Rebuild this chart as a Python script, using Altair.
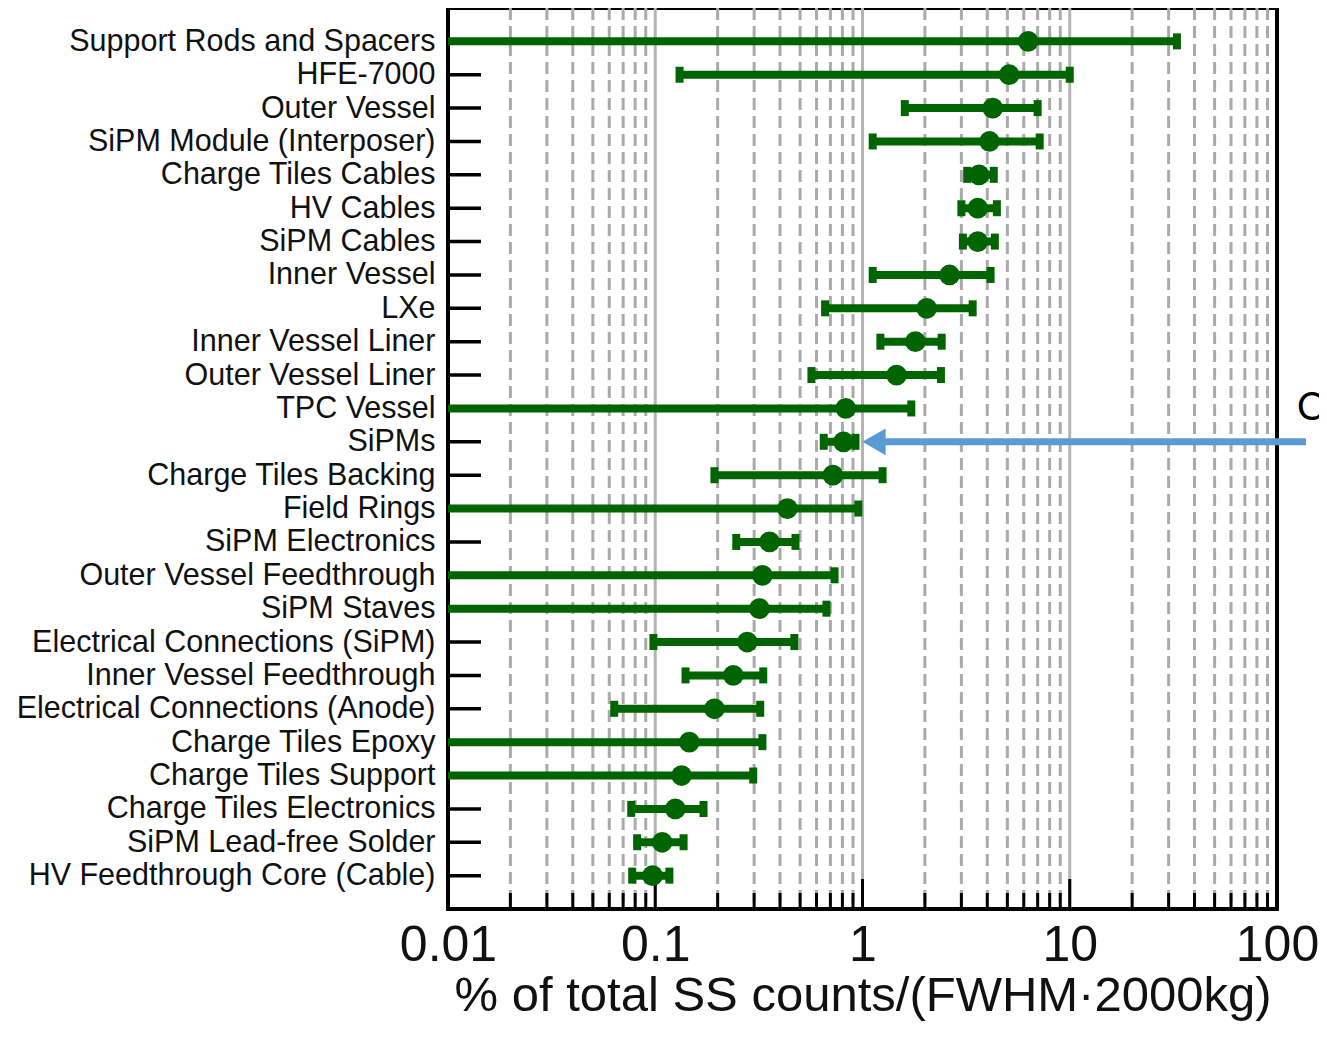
import altair as alt
import pandas as pd

categories = [
    "Support Rods and Spacers", "HFE-7000", "Outer Vessel", "SiPM Module (Interposer)",
    "Charge Tiles Cables", "HV Cables", "SiPM Cables", "Inner Vessel", "LXe",
    "Inner Vessel Liner", "Outer Vessel Liner", "TPC Vessel", "SiPMs",
    "Charge Tiles Backing", "Field Rings", "SiPM Electronics",
    "Outer Vessel Feedthrough", "SiPM Staves", "Electrical Connections (SiPM)",
    "Inner Vessel Feedthrough", "Electrical Connections (Anode)", "Charge Tiles Epoxy",
    "Charge Tiles Support", "Charge Tiles Electronics", "SiPM Lead-free Solder",
    "HV Feedthrough Core (Cable)",
]
center = [6.3, 5.1, 4.25, 4.1, 3.65, 3.6, 3.6, 2.63, 2.04, 1.80, 1.46, 0.83, 0.81,
          0.72, 0.434, 0.356, 0.329, 0.318, 0.278, 0.238, 0.193, 0.146, 0.134,
          0.125, 0.108, 0.097]
# None = lower limit below the axis range (bar runs to the left edge)
lower = [None, 0.131, 1.60, 1.12, 3.2, 3.0, 3.05, 1.12, 0.66, 1.22, 0.567, None, 0.65,
         0.193, None, 0.246, None, None, 0.098, 0.14, 0.0634, None, None,
         0.0766, 0.0818, 0.0774]
upper = [32.9, 10.0, 7.0, 7.16, 4.3, 4.45, 4.35, 4.15, 3.40, 2.41, 2.39, 1.72, 0.925,
         1.25, 0.955, 0.475, 0.733, 0.67, 0.469, 0.332, 0.321, 0.329, 0.297,
         0.171, 0.137, 0.117]

major_ticks = [0.01, 0.1, 1, 10, 100]
major_grid = [0.1, 1, 10]
minor_vals = [m * 10 ** e for e in (-2, -1, 0, 1) for m in range(2, 10)]

W, H = 829, 901
GREEN = "#006400"

df = pd.DataFrame({"cat": categories, "c": center, "hi": upper,
                   "lo": [l if l is not None else float("nan") for l in lower]})
df["lo_draw"] = [l if l is not None else 0.001 for l in lower]
df_lo = df.dropna(subset=["lo"])

xscale = alt.Scale(type="log", domain=[0.01, 100], nice=False)
yscale = alt.Scale(type="point", domain=categories, padding=1.2)

xaxis = alt.Axis(values=major_ticks, format="~g", labelFontSize=50, labelFont="Liberation Sans",
                 labelColor="#111", ticks=False, tickSize=0, domain=False, grid=False,
                 labelFlush=False, labelOverlap=False, labelPadding=11,
                 title="% of total SS counts/(FWHM·2000kg)", titleFontSize=49,
                 titleFont="Liberation Sans", titleFontWeight="normal", titleColor="#111",
                 titlePadding=1)
yaxis = alt.Axis(title=None, labelFontSize=30.5, labelFont="Liberation Sans", labelColor="#111",
                 ticks=False, tickSize=0, domain=False, grid=False, labelPadding=13,
                 labelLimit=500)

minor_df = pd.DataFrame({"v": minor_vals})
major_df = pd.DataFrame({"v": major_grid})
majtick_df = pd.DataFrame({"v": major_ticks})

grid_minor = alt.Chart(minor_df).mark_rule(color="#aaaaaa", strokeWidth=3, strokeDash=[12, 6]).encode(
    x=alt.X("v:Q", scale=xscale, axis=xaxis))
grid_major = alt.Chart(major_df).mark_rule(color="#b4b4b4", strokeWidth=3).encode(
    x=alt.X("v:Q", scale=xscale))
tick_minor = alt.Chart(minor_df).mark_rule(color="black", strokeWidth=3).encode(
    x=alt.X("v:Q", scale=xscale), y=alt.value(H), y2=alt.value(H - 16))
tick_major = alt.Chart(majtick_df).mark_rule(color="black", strokeWidth=3).encode(
    x=alt.X("v:Q", scale=xscale), y=alt.value(H), y2=alt.value(H - 30))

left_ticks = alt.Chart(df).mark_rule(color="black", strokeWidth=3.5).encode(
    y=alt.Y("cat:N", scale=yscale, axis=yaxis), x=alt.value(0), x2=alt.value(33))

bars = alt.Chart(df).mark_rule(color=GREEN, strokeWidth=8, clip=True).encode(
    y=alt.Y("cat:N", scale=yscale), x=alt.X("lo_draw:Q", scale=xscale), x2="hi:Q")
caps_hi = alt.Chart(df).mark_tick(color=GREEN, thickness=8, size=16, opacity=1).encode(
    y=alt.Y("cat:N", scale=yscale), x=alt.X("hi:Q", scale=xscale))
caps_lo = alt.Chart(df_lo).mark_tick(color=GREEN, thickness=8, size=16, opacity=1).encode(
    y=alt.Y("cat:N", scale=yscale), x=alt.X("lo:Q", scale=xscale))
dots = alt.Chart(df).mark_circle(color=GREEN, size=430, opacity=1).encode(
    y=alt.Y("cat:N", scale=yscale), x=alt.X("c:Q", scale=xscale))

arrow_df = pd.DataFrame({"cat": ["SiPMs"]})
arrow_line = alt.Chart(arrow_df).mark_rule(color="#5b9bd5", strokeWidth=7).encode(
    y=alt.Y("cat:N", scale=yscale), x=alt.value(434), x2=alt.value(858))
arrow_head = alt.Chart(arrow_df).mark_point(shape="triangle-left", filled=True, color="#5b9bd5",
                                            size=720, opacity=1).encode(
    y=alt.Y("cat:N", scale=yscale), x=alt.value(426))
note = alt.Chart(arrow_df).mark_text(text="Co", font="Lato", fontSize=38, color="black",
                                     align="left", baseline="alphabetic").encode(
    x=alt.value(849), y=alt.value(412))

chart = alt.layer(grid_minor, grid_major, tick_minor, tick_major, left_ticks, bars,
                  caps_hi, caps_lo, dots, arrow_line, arrow_head, note).properties(
    width=W, height=H,
    background="white",
    autosize=alt.AutoSizeParams(type="none"),
    padding={"left": 440, "top": 0, "right": 42, "bottom": 112},
).configure_view(stroke="black", strokeWidth=4)

chart.save("out.html", embed_options={"renderer": "svg", "actions": False})
